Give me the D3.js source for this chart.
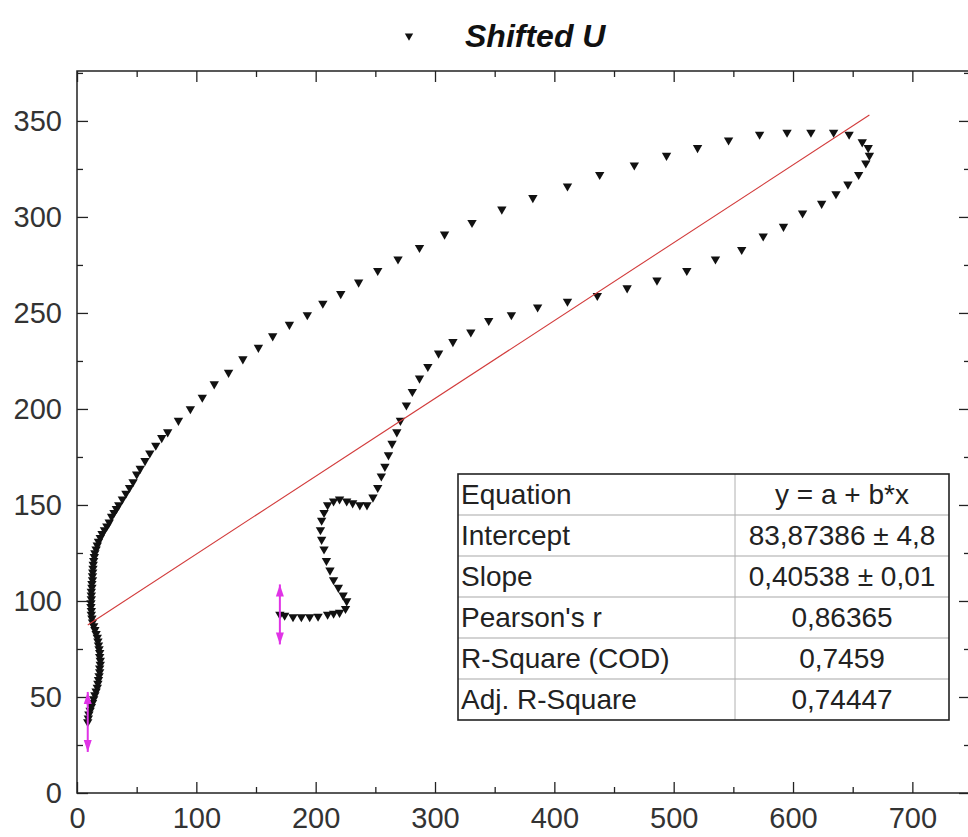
<!DOCTYPE html>
<html>
<head>
<meta charset="utf-8">
<script src="https://cdn.jsdelivr.net/npm/d3@7"></script>
<style>
  body { margin: 0; background: #fff; }
  svg { display: block; font-family: "Liberation Sans", Arial, sans-serif; }
</style>
</head>
<body>
<svg id="chart" width="968" height="837"></svg>
<script>
// data, in plotting order
const xs = [9, 9.5, 10, 11, 12, 13, 14, 15, 16, 17, 17.5, 18, 18.5, 19, 19, 19.5, 19.5, 19, 19, 18.5,
  18, 17.5, 17, 16, 15, 14, 13, 12.5, 12, 12, 11.7, 11.7, 12, 12, 12, 12.5, 12.5, 13, 13, 13.2,
  13.4, 13.6, 14, 14.5, 15, 16, 17, 18, 19.5, 21, 23, 25, 27, 29, 31, 33, 35, 38, 41, 44,
  47, 50, 53, 57, 61, 66, 71, 76, 85, 95, 105, 115, 127, 139, 152, 164, 178, 193, 206, 221,
  236, 252, 269, 287, 308, 331, 356, 382, 411, 438, 467, 494, 520, 546, 572, 595, 615, 634, 647, 658,
  663, 664, 661, 655, 646, 636, 624, 608, 592, 575, 557, 535, 511, 486, 461, 436, 411, 386, 364, 345,
  330, 315, 303, 294, 287, 281, 276, 271, 268, 264, 261, 258, 255, 252, 248, 243, 237, 231, 226, 220,
  215, 210, 207, 205, 204, 205, 207, 209, 212, 215, 219, 223, 226, 225, 220, 215, 210, 202, 195, 188,
  181, 174, 170];
const ys = [37, 39, 41, 43, 45, 47, 49, 51, 53, 55, 57, 59, 61, 63, 65, 67, 69, 71, 73, 75,
  77, 79, 81, 83, 85, 87, 89, 91, 93, 95, 97, 99, 101, 103, 105, 107, 109, 111, 113, 115,
  117, 119, 121, 123, 125, 127, 129, 131, 133, 135, 137, 139, 141, 144, 146, 148, 150, 153, 156, 159,
  162, 166, 169, 173, 177, 181, 185, 188, 194, 200, 206, 213, 219, 226, 232, 238, 244, 249, 255, 260,
  266, 272, 278, 284, 291, 297, 304, 310, 316, 322, 327, 332, 336, 340, 343, 344, 344, 344, 343, 339,
  336, 332, 328, 322, 317, 312, 307, 302, 295, 290, 283, 278, 272, 267, 263, 259, 256, 253, 249, 246,
  240, 235, 229, 222, 216, 209, 202, 194, 188, 182, 176, 170, 165, 159, 154, 150, 150, 151, 152, 153,
  152, 150, 146, 142, 137, 132, 127, 121, 116, 111, 107, 103, 100, 96, 94, 93.5, 93, 92, 91.7, 91.7,
  91.7, 92.5, 93];

// linear fit results
const fitIntercept = 83.87386;
const fitSlope = 0.40538;

const xTicks = [0, 100, 200, 300, 400, 500, 600, 700];
const xMinor = [50, 150, 250, 350, 450, 550, 650];
const yTicks = [0, 50, 100, 150, 200, 250, 300, 350];
const yMinor = [25, 75, 125, 175, 225, 275, 325, 375];

const tableLabels = ["Equation", "Intercept", "Slope", "Pearson's r", "R-Square (COD)", "Adj. R-Square"];
const tableValues = ["y = a + b*x", "83,87386 ± 4,8", "0,40538 ± 0,01", "0,86365", "0,7459", "0,74447"];

const seriesName = "Shifted U";

const svg = d3.select('#chart');
const W = +svg.attr('width');
const H = +svg.attr('height');

// right edge of the frame sits just outside the picture
const margin = {top: 71, right: -2, bottom: 44, left: 77};

const x = d3.scaleLinear().domain([0, 748.3]).range([margin.left, W - margin.right]);
const y = d3.scaleLinear().domain([0, 376]).range([H - margin.bottom, margin.top]);

svg.append('rect').attr('width', W).attr('height', H).attr('fill', '#fff');

// ticks, all pointing inward
const tickStyle = g => {
    g.select('.domain').remove();
    g.selectAll('.tick line').attr('stroke', '#222').attr('stroke-width', 1.3);
    g.selectAll('.tick text').attr('fill', '#333').style('font-size', '29px');
};

svg.append('g')
    .attr('transform', `translate(0,${y(0)})`)
    .call(d3.axisBottom(x).tickValues(xTicks).tickSize(-11).tickPadding(14).tickFormat(d3.format('d')))
    .call(tickStyle);
svg.append('g')
    .attr('transform', `translate(0,${y(0)})`)
    .call(d3.axisBottom(x).tickValues(xMinor).tickSize(-6).tickFormat(''))
    .call(tickStyle);
svg.append('g')
    .attr('transform', `translate(0,${margin.top})`)
    .call(d3.axisTop(x).tickValues(xTicks).tickSize(-11).tickFormat(''))
    .call(tickStyle);
svg.append('g')
    .attr('transform', `translate(0,${margin.top})`)
    .call(d3.axisTop(x).tickValues(xMinor).tickSize(-6).tickFormat(''))
    .call(tickStyle);

svg.append('g')
    .attr('transform', `translate(${x(0)},0)`)
    .call(d3.axisLeft(y).tickValues(yTicks).tickSize(-11).tickPadding(15).tickFormat(d3.format('d')))
    .call(tickStyle);
svg.append('g')
    .attr('transform', `translate(${x(0)},0)`)
    .call(d3.axisLeft(y).tickValues(yMinor).tickSize(-6).tickFormat(''))
    .call(tickStyle);
svg.append('g')
    .attr('transform', `translate(${W - margin.right},0)`)
    .call(d3.axisRight(y).tickValues(yTicks).tickSize(-11).tickFormat(''))
    .call(tickStyle);
svg.append('g')
    .attr('transform', `translate(${W - margin.right},0)`)
    .call(d3.axisRight(y).tickValues(yMinor).tickSize(-6).tickFormat(''))
    .call(tickStyle);

// frame
svg.append('rect')
    .attr('x', x(0)).attr('y', margin.top)
    .attr('width', W - margin.right - x(0)).attr('height', y(0) - margin.top)
    .attr('fill', 'none').attr('stroke', '#222').attr('stroke-width', 1.5);

// points
const pts = xs.map((d, i) => ({x: d, y: ys[i]}));
const tri = d3.symbol().type(d3.symbolTriangle).size(38);

svg.append('g').selectAll('path')
    .data(pts)
    .join('path')
        .attr('d', tri)
        .attr('transform', d => `translate(${x(d.x)},${y(d.y)}) rotate(180)`)
        .attr('fill', '#111');

// fit line across the data range
const xExt = d3.extent(xs);
svg.append('line')
    .attr('x1', x(xExt[0])).attr('y1', y(fitIntercept + fitSlope * xExt[0]))
    .attr('x2', x(xExt[1])).attr('y2', y(fitIntercept + fitSlope * xExt[1]))
    .attr('stroke', '#d23c3c').attr('stroke-width', 1.1);

// range markers at first and last point
const ends = [pts[0], pts[pts.length - 1]];
const mk = svg.append('g').selectAll('g')
    .data(ends)
    .join('g')
        .attr('transform', d => `translate(${x(d.x)},${y(d.y)})`)
        .attr('fill', '#e033e6').attr('stroke', '#e033e6');
mk.append('line').attr('y1', -30).attr('y2', 30).attr('stroke-width', 2);
mk.append('path').attr('d', 'M-4,-18 L0,-30 L4,-18 Z').attr('stroke', 'none');
mk.append('path').attr('d', 'M-4,18 L0,30 L4,18 Z').attr('stroke', 'none');

// stats table
const tbl = {left: 458, right: 949, top: 474, rowH: 41, split: 735};
const tg = svg.append('g');
const nRows = tableLabels.length;
tg.append('rect')
    .attr('x', tbl.left).attr('y', tbl.top)
    .attr('width', tbl.right - tbl.left).attr('height', tbl.rowH * nRows)
    .attr('fill', '#fff');
tg.selectAll('line.row')
    .data(d3.range(1, nRows))
    .join('line')
        .attr('class', 'row')
        .attr('x1', tbl.left).attr('x2', tbl.right)
        .attr('y1', i => tbl.top + i * tbl.rowH).attr('y2', i => tbl.top + i * tbl.rowH)
        .attr('stroke', '#a8a8a8').attr('stroke-width', 1.2);
tg.append('line')
    .attr('x1', tbl.split).attr('x2', tbl.split)
    .attr('y1', tbl.top).attr('y2', tbl.top + tbl.rowH * nRows)
    .attr('stroke', '#b0b0b0').attr('stroke-width', 1);
tg.append('rect')
    .attr('x', tbl.left).attr('y', tbl.top)
    .attr('width', tbl.right - tbl.left).attr('height', tbl.rowH * nRows)
    .attr('fill', 'none').attr('stroke', '#222').attr('stroke-width', 1.6);
tg.selectAll('text.lab')
    .data(tableLabels)
    .join('text')
        .attr('class', 'lab')
        .attr('x', tbl.left + 3)
        .attr('y', (d, i) => tbl.top + i * tbl.rowH + tbl.rowH / 2)
        .attr('dy', '0.35em')
        .attr('fill', '#222')
        .style('font-size', '28px')
        .text(d => d);
tg.selectAll('text.val')
    .data(tableValues)
    .join('text')
        .attr('class', 'val')
        .attr('x', (tbl.split + tbl.right) / 2)
        .attr('y', (d, i) => tbl.top + i * tbl.rowH + tbl.rowH / 2)
        .attr('dy', '0.35em')
        .attr('text-anchor', 'middle')
        .attr('fill', '#222')
        .style('font-size', '28px')
        .text(d => d);

// legend / title
const lg = svg.append('g');
lg.append('path')
    .attr('d', d3.symbol().type(d3.symbolTriangle).size(30))
    .attr('transform', 'translate(409,36) rotate(180)')
    .attr('fill', '#111');
lg.append('text')
    .attr('x', 465).attr('y', 47)
    .style('font-size', '32px').style('font-weight', 'bold').style('font-style', 'italic')
    .attr('fill', '#111')
    .text(seriesName);
</script>
</body>
</html>
